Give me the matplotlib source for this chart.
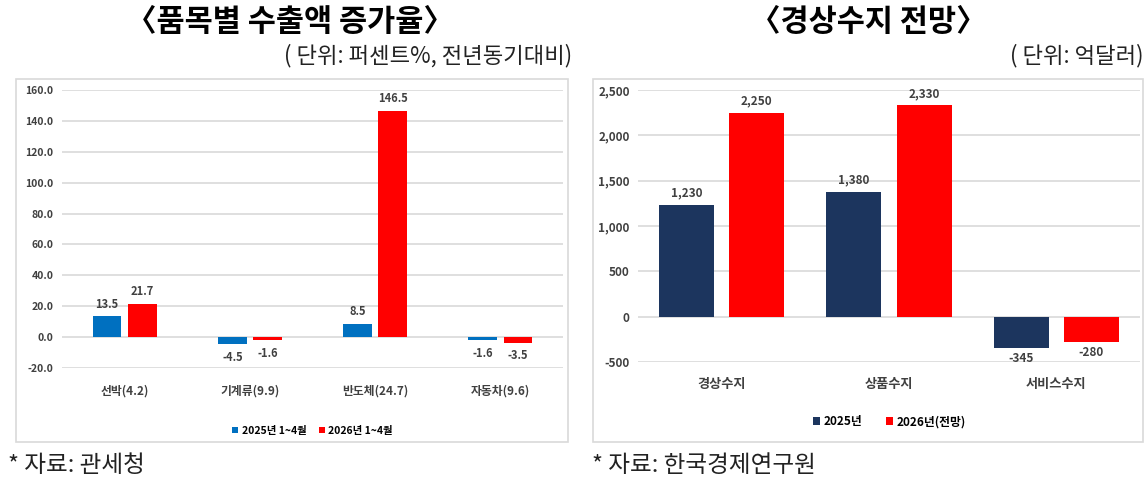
import matplotlib
matplotlib.use('Agg')
import matplotlib.pyplot as plt
import numpy as np
from matplotlib.patches import Rectangle

plt.rcParams['font.family'] = ['Noto Sans CJK KR', 'DejaVu Sans']

# left chart data
items = ['선박(4.2)', '기계류(9.9)', '반도체(24.7)', '자동차(9.6)']
exp_2025 = [13.5, -4.5, 8.5, -1.6]
exp_2026 = [21.7, -1.6, 146.5, -3.5]
exp_legend = ['2025년 1~4월', '2026년 1~4월']

# right chart data
balances = ['경상수지', '상품수지', '서비스수지']
bal_2025 = [1230, 1380, -345]
bal_2026 = [2250, 2330, -280]
bal_legend = ['2025년', '2026년(전망)']

W, H = 1147, 490
fig = plt.figure(figsize=(W / 100, H / 100), dpi=100)
fig.patch.set_facecolor('white')


def px_axes(x0, y0, x1, y1):
    return fig.add_axes([x0 / W, 1 - y1 / H, (x1 - x0) / W, (y1 - y0) / H])


# panel frames
for (x0, y0, x1, y1) in [(16, 79, 568, 442), (593, 79, 1143, 442)]:
    fig.patches.append(Rectangle((x0 / W, 1 - y1 / H), (x1 - x0) / W, (y1 - y0) / H,
                                 transform=fig.transFigure, fill=False,
                                 edgecolor='#D9D9D9', linewidth=1.2))

grid_c = '#D9D9D9'
txt_c = '#404040'

# ---- left chart ----
ax1 = px_axes(62, 90, 563, 368)
x = np.arange(len(items))
bw = 0.23
off = 0.14
b1 = ax1.bar(x - off, exp_2025, bw, color='#0070C0', label=exp_legend[0], zorder=3)
b2 = ax1.bar(x + off, exp_2026, bw, color='#FF0000', label=exp_legend[1], zorder=3)
ax1.set_xlim(-0.5, len(items) - 0.5)
ax1.set_ylim(-20, 160)
ticks1 = np.arange(-20, 161, 20)
ax1.set_yticks(ticks1)
ax1.set_yticklabels([f'{v:.1f}' for v in ticks1], fontsize=7.5, fontweight='bold',
                    color=txt_c)
ax1.yaxis.grid(True, color=grid_c, linewidth=1.2, zorder=0)
ax1.set_axisbelow(True)
ax1.set_xticks(x)
ax1.set_xticklabels(items, fontsize=8.5, fontweight='bold', color=txt_c)
ax1.tick_params(length=0, pad=6)
ax1.tick_params(axis='x', pad=12)
for s in ax1.spines.values():
    s.set_visible(False)
for bars, vals in [(b1, exp_2025), (b2, exp_2026)]:
    for r, v in zip(bars, vals):
        ax1.annotate(f'{v:.1f}', (r.get_x() + r.get_width() / 2, v),
                     xytext=(0, 4 if v >= 0 else -5), textcoords='offset points',
                     ha='center', va='bottom' if v >= 0 else 'top',
                     fontsize=8, fontweight='bold', color=txt_c)
ax1.legend(loc='center', bbox_to_anchor=(0.5, -0.225), ncol=2, frameon=False,
           handlelength=0.6, handleheight=0.6, handletextpad=0.3,
           columnspacing=1.2, prop={'weight': 'bold', 'size': 7.5})

# ---- right chart ----
ax2 = px_axes(638, 90, 1140, 362)
x2 = np.arange(len(balances))
bw2 = 0.33
off2 = 0.21
c1 = ax2.bar(x2 - off2, bal_2025, bw2, color='#1C355E', label=bal_legend[0], zorder=3)
c2 = ax2.bar(x2 + off2, bal_2026, bw2, color='#FF0000', label=bal_legend[1], zorder=3)
ax2.set_xlim(-0.5, len(balances) - 0.5)
ax2.set_ylim(-500, 2500)
ticks2 = np.arange(-500, 2501, 500)
ax2.set_yticks(ticks2)
ax2.set_yticklabels([f'{v:,}' for v in ticks2], fontsize=8.5, fontweight='bold',
                    color=txt_c)
ax2.yaxis.grid(True, color=grid_c, linewidth=1.2, zorder=0)
ax2.set_axisbelow(True)
ax2.set_xticks(x2)
ax2.set_xticklabels(balances, fontsize=9.5, fontweight='bold', color=txt_c)
ax2.tick_params(length=0, pad=6)
ax2.tick_params(axis='x', pad=11)
for s in ax2.spines.values():
    s.set_visible(False)
for bars, vals in [(c1, bal_2025), (c2, bal_2026)]:
    for r, v in zip(bars, vals):
        ax2.annotate(f'{v:,}', (r.get_x() + r.get_width() / 2, v),
                     xytext=(0, 4 if v >= 0 else -3), textcoords='offset points',
                     ha='center', va='bottom' if v >= 0 else 'top',
                     fontsize=8.5, fontweight='bold', color=txt_c)
ax2.legend(loc='center', bbox_to_anchor=(0.5, -0.22), ncol=2, frameon=False,
           handlelength=0.6, handleheight=0.6, handletextpad=0.3,
           columnspacing=2.0, prop={'weight': 'bold', 'size': 8.5})

# ---- titles and notes ----
fig.text(290 / W, 1 - 22 / H, '〈품목별 수출액 증가율〉', ha='center', va='center',
         fontsize=22, fontweight='bold')
fig.text(572 / W, 1 - 56 / H, '( 단위: 퍼센트%, 전년동기대비)', ha='right', va='center',
         fontsize=16, color='#222222')
fig.text(868 / W, 1 - 22 / H, '〈경상수지 전망〉', ha='center', va='center',
         fontsize=22, fontweight='bold')
fig.text(1143 / W, 1 - 56 / H, '( 단위: 억달러)', ha='right', va='center',
         fontsize=16, color='#222222')
fig.text(8 / W, 1 - 465 / H, '* 자료: 관세청', ha='left', va='center',
         fontsize=17, color='#222222')
fig.text(592 / W, 1 - 465 / H, '* 자료: 한국경제연구원', ha='left', va='center',
         fontsize=17, color='#222222')

fig.savefig('out.png', dpi=100)
